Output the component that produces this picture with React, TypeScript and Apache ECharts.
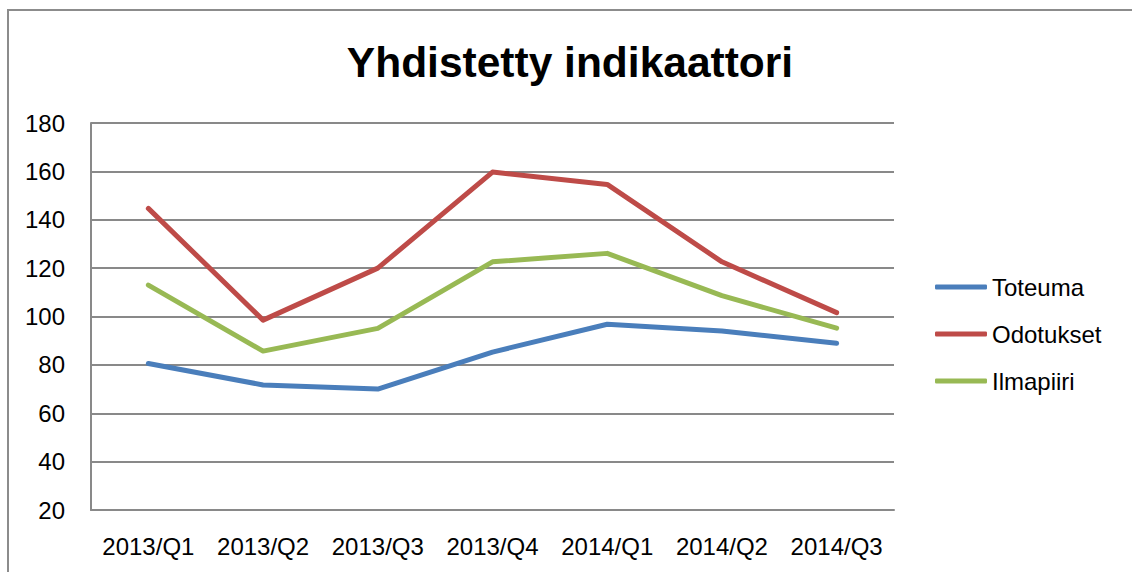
import React, { useEffect, useRef } from "react";
import * as echarts from "echarts";

const categories = ["2013/Q1", "2013/Q2", "2013/Q3", "2013/Q4", "2014/Q1", "2014/Q2", "2014/Q3"];
const toteuma = [80.6, 71.7, 70.0, 85.3, 96.8, 94.0, 88.9];
const odotukset = [144.7, 98.5, 120.0, 159.7, 154.6, 122.6, 101.6];
const ilmapiiri = [113.0, 85.7, 95.1, 122.6, 126.1, 108.6, 95.2];
const seriesNames = ["Toteuma", "Odotukset", "Ilmapiiri"];
const colors = ["#4A7EBB", "#BE4B48", "#98B954"];
const titleText = "Yhdistetty indikaattori";

const FONT = "'Liberation Sans', Arial, sans-serif";

export default function App() {
  const ref = useRef<HTMLDivElement>(null);
  useEffect(() => {
    if (!ref.current) return;
    const chart = echarts.init(ref.current, undefined, { renderer: "svg" });
    const data = [toteuma, odotukset, ilmapiiri];
    chart.setOption({
      animation: false,
      backgroundColor: "#ffffff",
      textStyle: { fontFamily: FONT },
      graphic: [
        {
          type: "rect",
          shape: { x: 8, y: 10, width: 1200, height: 700 },
          style: { fill: "none", stroke: "#8c8c8c", lineWidth: 2 },
          silent: true,
        },
        {
          type: "text",
          x: 570,
          y: 62,
          style: {
            text: titleText,
            fontSize: 42.5,
            fontWeight: "bold",
            fontFamily: FONT,
            fill: "#000000",
            textAlign: "center",
            textVerticalAlign: "middle",
          },
        },
      ],
      legend: {
        orient: "vertical",
        left: 930,
        top: 270,
        itemWidth: 52,
        itemHeight: 5,
        itemGap: 23,
        icon: "roundRect",
        data: seriesNames,
        textStyle: { fontSize: 24, color: "#000", fontFamily: FONT },
      },
      grid: { left: 91, top: 123, width: 803, height: 387 },
      xAxis: {
        type: "category",
        data: categories,
        boundaryGap: true,
        axisLine: { show: true, lineStyle: { color: "#898989", width: 2 } },
        axisTick: { show: false },
        axisLabel: { fontSize: 24, color: "#000", margin: 24, fontFamily: FONT, interval: 0 },
      },
      yAxis: {
        type: "value",
        min: 20,
        max: 180,
        interval: 20,
        axisLine: { show: true, lineStyle: { color: "#898989", width: 2 } },
        axisTick: { show: false },
        axisLabel: { fontSize: 24, color: "#000", margin: 26, fontFamily: FONT },
        splitLine: { show: true, lineStyle: { color: "#898989", width: 2 } },
      },
      series: seriesNames.map((name, i) => ({
        name,
        type: "line",
        data: data[i],
        symbol: "none",
        color: colors[i],
        lineStyle: { width: 5, color: colors[i], cap: "round", join: "round" },
        itemStyle: { color: colors[i] },
      })),
    });
    return () => chart.dispose();
  }, []);
  return (
    <div
      ref={ref}
      style={{ position: "absolute", left: 0, top: 0, width: 1132, height: 572 }}
    />
  );
}
